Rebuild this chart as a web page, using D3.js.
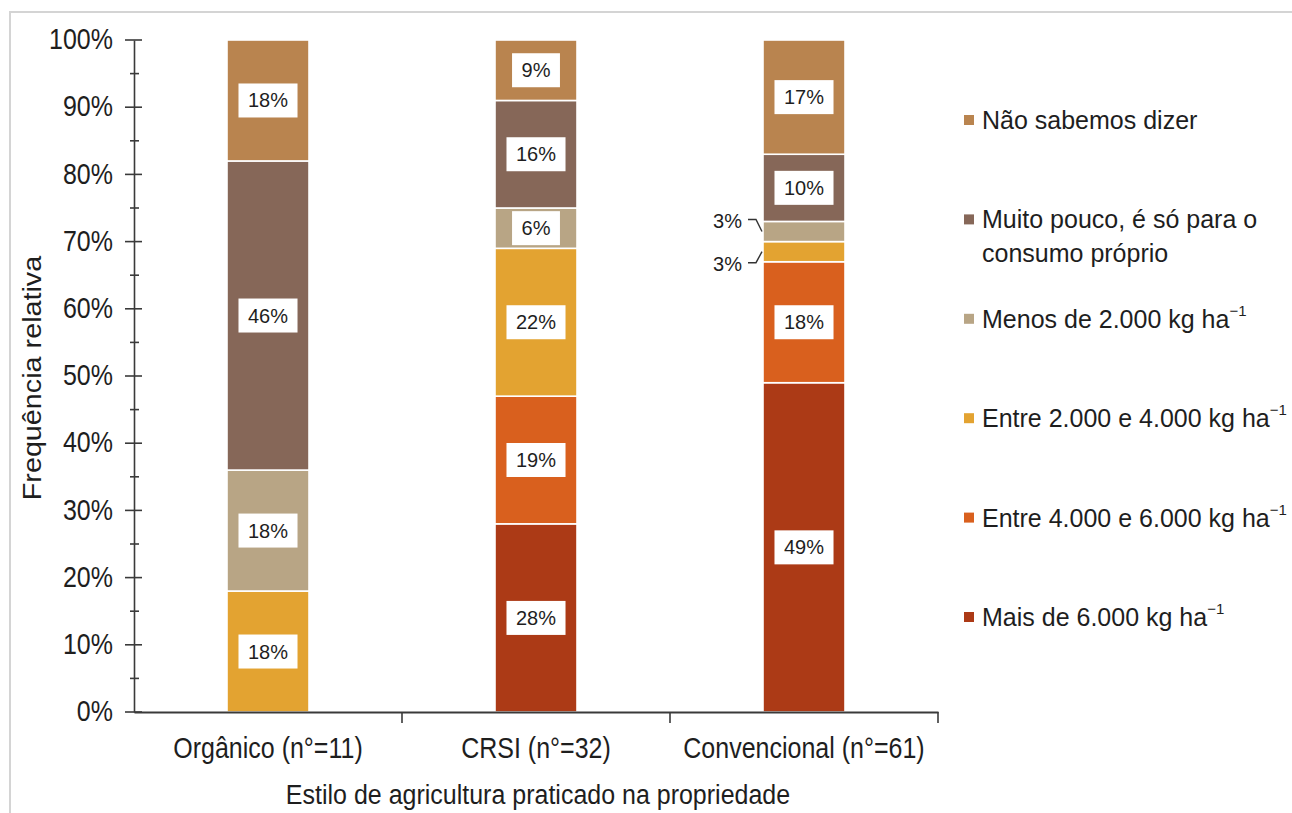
<!DOCTYPE html>
<html>
<head>
<meta charset="utf-8">
<script src="https://cdn.jsdelivr.net/npm/d3@7"></script>
<style>
  html, body { margin: 0; padding: 0; background: #fff; }
  svg { display: block; font-family: "Liberation Sans", Arial, sans-serif; }
</style>
</head>
<body>
<svg id="chart" width="1292" height="813"></svg>
<script>
// Farming style categories (x axis)
const categories = ["Orgânico (n°=11)", "CRSI (n°=32)", "Convencional (n°=61)"];

// Productivity classes, stacked bottom to top
const seriesKeys = ["mais6000", "entre4000e6000", "entre2000e4000", "menos2000", "muitoPouco", "naoSabemos"];
const seriesLabels = [
  ["Mais de 6.000 kg ha⁻¹"],
  ["Entre 4.000 e 6.000 kg ha⁻¹"],
  ["Entre 2.000 e 4.000 kg ha⁻¹"],
  ["Menos de 2.000 kg ha⁻¹"],
  ["Muito pouco, é só para o", "consumo próprio"],
  ["Não sabemos dizer"]
];
const seriesColors = ["#ac3a16", "#d9601e", "#e3a331", "#b8a585", "#866758", "#b9844f"];

// Relative frequency (%) per category
const mais6000       = [0, 28, 49];
const entre4000e6000 = [0, 19, 18];
const entre2000e4000 = [18, 22, 3];
const menos2000      = [18, 6, 3];
const muitoPouco     = [46, 16, 10];
const naoSabemos     = [18, 9, 17];

// Y axis ticks
const yTicks = [0, 10, 20, 30, 40, 50, 60, 70, 80, 90, 100];
const yMinorTicks = [5, 15, 25, 35, 45, 55, 65, 75, 85, 95];

const yTitle = "Frequência relativa";
const xTitle = "Estilo de agricultura praticado na propriedade";

const seriesValues = [mais6000, entre4000e6000, entre2000e4000, menos2000, muitoPouco, naoSabemos];
const table = categories.map((c, i) => {
  const row = { category: c };
  seriesKeys.forEach((k, j) => { row[k] = seriesValues[j][i]; });
  return row;
});

const svg = d3.select("#chart");
const axisColor = "#3a3a3a";
const textColor = "#1e1e1e";

// Light frame
svg.append("path")
  .attr("d", "M10,813 L10,12 L1292,12")
  .attr("fill", "none")
  .attr("stroke", "#d4d4d4")
  .attr("stroke-width", 2);

const plotLeft = 134, plotRight = 938, plotTop = 40, plotBottom = 712;

const y = d3.scaleLinear().domain([0, 100]).range([plotBottom, plotTop]);
const x = d3.scaleBand().domain(categories).range([plotLeft, plotRight])
  .paddingInner(0.694).paddingOuter(0.347);
const color = d3.scaleOrdinal().domain(seriesKeys).range(seriesColors);

const stacked = d3.stack().keys(seriesKeys)(table);

// Bars
const layers = svg.append("g").selectAll("g")
  .data(stacked).join("g")
  .attr("fill", d => color(d.key));

layers.selectAll("rect")
  .data(d => d.filter(s => s[1] - s[0] > 0))
  .join("rect")
  .attr("x", d => x(d.data.category))
  .attr("width", x.bandwidth())
  .attr("y", d => y(d[1]))
  .attr("height", d => y(d[0]) - y(d[1]))
  .attr("stroke", "#fff")
  .attr("stroke-width", 1.6);

// Y axis
const yAxis = svg.append("g")
  .attr("transform", `translate(${plotLeft},0)`)
  .call(d3.axisLeft(y).tickValues(yTicks).tickFormat(d => d + "%").tickSize(0).tickPadding(21));
yAxis.select(".domain").attr("stroke", axisColor).attr("stroke-width", 1.6);
yAxis.selectAll("text")
  .attr("font-size", 25)
  .attr("fill", textColor)
  .attr("transform", "scale(1,1.15)")
  .attr("dy", "0.3em");

const yTickG = svg.append("g").attr("stroke", axisColor).attr("stroke-width", 1.6);
yTickG.selectAll("line.major").data(yTicks).join("line")
  .attr("class", "major")
  .attr("x1", plotLeft - 9).attr("x2", plotLeft + 8)
  .attr("y1", d => y(d)).attr("y2", d => y(d));
yTickG.selectAll("line.minor").data(yMinorTicks).join("line")
  .attr("class", "minor")
  .attr("x1", plotLeft - 4).attr("x2", plotLeft + 5)
  .attr("y1", d => y(d)).attr("y2", d => y(d));

// X axis
const xAxis = svg.append("g")
  .attr("transform", `translate(0,${plotBottom})`)
  .call(d3.axisBottom(x).tickSize(0).tickPadding(22));
xAxis.select(".domain").attr("stroke", axisColor).attr("stroke-width", 1.8);
xAxis.selectAll("text")
  .attr("font-size", 25)
  .attr("fill", textColor)
  .attr("transform", "scale(1,1.15)");

// Category separator ticks below the axis
const boundaries = categories.map((c, i) => plotLeft + x.step() * (i + 1));
svg.append("g").selectAll("line").data(boundaries).join("line")
  .attr("x1", d => d).attr("x2", d => d)
  .attr("y1", plotBottom).attr("y2", plotBottom + 11)
  .attr("stroke", axisColor).attr("stroke-width", 1.6);

// Axis titles
svg.append("text")
  .attr("transform", `translate(33,${(plotTop + plotBottom) / 2 + 2}) rotate(-90) scale(1.15,1)`)
  .attr("text-anchor", "middle")
  .attr("dominant-baseline", "central")
  .attr("font-size", 25)
  .attr("fill", textColor)
  .text(yTitle);

svg.append("text")
  .attr("transform", "translate(538,795) scale(1,1.12)")
  .attr("text-anchor", "middle")
  .attr("dominant-baseline", "central")
  .attr("font-size", 25)
  .attr("fill", textColor)
  .text(xTitle);

// Value labels
const labelG = svg.append("g");
const smallByCategory = {};
stacked.forEach(layer => {
  layer.forEach(seg => {
    const v = seg[1] - seg[0];
    if (v <= 0) return;
    const cx = x(seg.data.category) + x.bandwidth() / 2;
    const cy = (y(seg[0]) + y(seg[1])) / 2;
    if (v >= 5) {
      const g = labelG.append("g").attr("transform", `translate(${cx},${cy})`);
      const t = g.append("text")
        .attr("text-anchor", "middle")
        .attr("dominant-baseline", "central")
        .attr("font-size", 20)
        .attr("fill", textColor)
        .text(v + "%");
      const w = t.node().getComputedTextLength() + 19;
      g.insert("rect", "text")
        .attr("x", -w / 2).attr("y", -17)
        .attr("width", w).attr("height", 34)
        .attr("fill", "#fff");
    } else {
      (smallByCategory[seg.data.category] = smallByCategory[seg.data.category] || []).push({ v, cy, cat: seg.data.category });
    }
  });
});

// Small segments get outside labels with leader lines
Object.values(smallByCategory).forEach(list => {
  list.sort((a, b) => a.cy - b.cy);
  list.forEach((d, i) => {
    const off = list.length === 1 ? 0 : (i === 0 ? -12 : 11);
    const x0 = x(d.cat);
    const ty = d.cy + off;
    labelG.append("path")
      .attr("d", `M${x0 - 15},${ty} L${x0 - 7},${ty} L${x0 - 1},${d.cy}`)
      .attr("fill", "none")
      .attr("stroke", "#333")
      .attr("stroke-width", 1.4);
    labelG.append("text")
      .attr("x", x0 - 21).attr("y", ty + 1)
      .attr("text-anchor", "end")
      .attr("dominant-baseline", "central")
      .attr("font-size", 20)
      .attr("fill", textColor)
      .text(d.v + "%");
  });
});

// Legend (top of stack listed first)
const legendOrder = seriesKeys.map((k, i) => i).reverse();
const ly = d3.scalePoint().domain(legendOrder).range([120, 617]);
const legend = svg.append("g");
legendOrder.forEach(i => {
  const g = legend.append("g").attr("transform", `translate(964,${ly(i)})`);
  g.append("rect").attr("x", 0).attr("y", -5).attr("width", 10).attr("height", 10).attr("fill", seriesColors[i]);
  seriesLabels[i].forEach((line, li) => {
    const t = g.append("text")
      .attr("x", 18).attr("y", li * 34)
      .attr("dominant-baseline", "central")
      .attr("font-size", 25)
      .attr("fill", textColor);
    const m = line.match(/^(.*?)(⁻¹)?$/);
    t.append("tspan").text(m[1]);
    if (m[2]) {
      t.append("tspan").attr("font-size", 15).attr("dy", -9).text("−1");
    }
  });
});
</script>
</body>
</html>
